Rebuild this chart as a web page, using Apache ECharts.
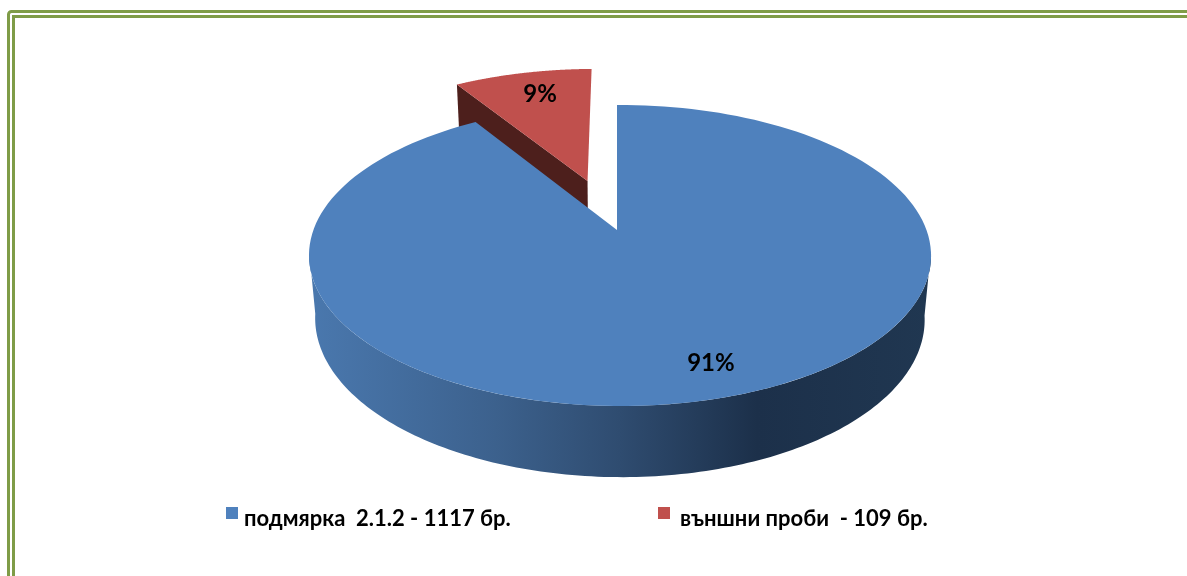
<!DOCTYPE html>
<html>
<head>
<meta charset="utf-8">
<style>
  html, body { margin: 0; padding: 0; background: #fff; }
  #chart { width: 1187px; height: 576px; }
</style>
</head>
<body>
<div id="chart"></div>
<script src="https://cdn.jsdelivr.net/npm/echarts@6/dist/echarts.min.js"></script>
<script>
const names = ['подмярка  2.1.2', 'външни проби ']
const counts = [1117, 109]
const units = ' бр.'
const colors = ['#4f81bd', '#c0504d']
const sideColor = '#4d1f1c'
const fontFamily = 'Lato, "Noto Sans", sans-serif'

const total = counts[0] + counts[1]
const sweep = counts.map(v => v / total * 360)
const labels = counts.map(v => Math.round(v / total * 100) + '%')
const legendNames = names.map((n, i) => n + ' - ' + counts[i] + units)

// 透视投影参数（圆盘坐标 -> 屏幕坐标）
const apexX = 617
const apexY = 230
const scaleX = 306.5
const scaleY = 146.2
const tiltY = 0.1694
const tiltX = 0.0096
const depth = 64
const depthShrink = 0.02
const explode = 0.37
// 侧面左右切点的角度
const sideFrom = 98
const sideTo = 262

const project = (u, v, lower) => {
  const w = 1 - tiltY * v - tiltX * u + (lower ? depthShrink : 0)
  return [
    apexX + scaleX * u / w,
    apexY + (scaleY * v + (lower ? depth : 0)) / w
  ]
}

// 角度从正上方顺时针计算
const rimPoint = (deg, r, off, lower) => {
  const a = deg * Math.PI / 180
  return project(off[0] + r * Math.sin(a), off[1] - r * Math.cos(a), lower)
}

const arc = (from, to, off, lower) => {
  const pts = []
  const n = 160
  for (let i = 0; i <= n; i++) {
    pts.push(rimPoint(from + (to - from) * i / n, 1, off, lower))
  }
  return pts
}

const textEl = (pos, str) => ({
  type: 'text',
  style: {
    x: pos[0],
    y: pos[1],
    text: str,
    fill: '#000',
    font: 'bold 24px ' + fontFamily,
    align: 'center',
    verticalAlign: 'middle'
  }
})

const renderBlue = () => {
  const off = [0, 0]
  const front = arc(sideFrom, sideTo, off, false)
  const frontLow = arc(sideFrom, sideTo, off, true).reverse()
  return {
    type: 'group',
    children: [
      {
        type: 'polygon',
        shape: { points: front.concat(frontLow) },
        style: {
          fill: new echarts.graphic.LinearGradient(309, 0, 931, 0, [
            { offset: 0, color: '#4a78ae' },
            { offset: 0.3, color: '#3c618d' },
            { offset: 0.5, color: '#2f4c70' },
            { offset: 0.72, color: '#1c304a' },
            { offset: 1, color: '#203751' }
          ], true)
        }
      },
      {
        type: 'polygon',
        shape: { points: [project(0, 0, false)].concat(arc(0, sweep[0], off, false)) },
        style: { fill: colors[0] }
      },
      textEl(rimPoint(sweep[0] / 2 - 2.6, 0.83, off, false), labels[0])
    ]
  }
}

const renderRed = () => {
  const mid = sweep[0] + sweep[1] / 2
  const m = mid * Math.PI / 180
  const off = [explode * Math.sin(m), -explode * Math.cos(m)]
  const start = sweep[0]
  const corner = rimPoint(start, 1, off, false)
  const cornerLow = rimPoint(start, 1, off, true)
  const apex = project(off[0], off[1], false)
  const apexLow = project(off[0], off[1], true)
  return {
    type: 'group',
    children: [
      {
        type: 'polygon',
        shape: { points: [corner, apex, apexLow, cornerLow] },
        style: { fill: sideColor }
      },
      {
        type: 'polygon',
        shape: { points: [apex].concat(arc(start, 360, off, false)) },
        style: { fill: colors[1] }
      },
      textEl(rimPoint(mid + 1.2, 0.77, off, false), labels[1])
    ]
  }
}

const chart = echarts.init(document.getElementById('chart'))

const legendBase = {
  top: 507,
  orient: 'horizontal',
  selectedMode: false,
  itemWidth: 12,
  itemHeight: 12,
  icon: 'rect',
  padding: 0,
  formatter: '{a|{name}}'
}
// 用 rich 的 padding 让文字比图例方块略低
const legendText = (leftPad) => ({
  rich: {
    a: {
      color: '#000',
      fontSize: 22,
      fontWeight: 'bold',
      fontFamily: fontFamily,
      padding: [12, 0, 0, leftPad]
    }
  }
})

chart.setOption({
  animation: false,
  backgroundColor: '#fff',
  legend: [
    { ...legendBase, left: 226, data: [legendNames[0]], textStyle: legendText(1) },
    { ...legendBase, left: 658, data: [legendNames[1]], textStyle: legendText(5) }
  ],
  graphic: [
    {
      type: 'rect',
      shape: { x: 8.5, y: 11.5, width: 1400, height: 800, r: 3 },
      style: { fill: 'none', stroke: '#7f9c47', lineWidth: 3 }
    },
    {
      type: 'rect',
      shape: { x: 13.5, y: 16.5, width: 1400, height: 800 },
      style: { fill: 'none', stroke: '#7f9c47', lineWidth: 3 }
    }
  ],
  series: [
    {
      type: 'custom',
      name: legendNames[1],
      coordinateSystem: 'none',
      z: 1,
      itemStyle: { color: colors[1] },
      data: [counts[1]],
      renderItem: renderRed
    },
    {
      type: 'custom',
      name: legendNames[0],
      coordinateSystem: 'none',
      z: 2,
      itemStyle: { color: colors[0] },
      data: [counts[0]],
      renderItem: renderBlue
    }
  ]
})

window.addEventListener('resize', () => {
  chart && chart.resize()
})
</script>
</body>
</html>
